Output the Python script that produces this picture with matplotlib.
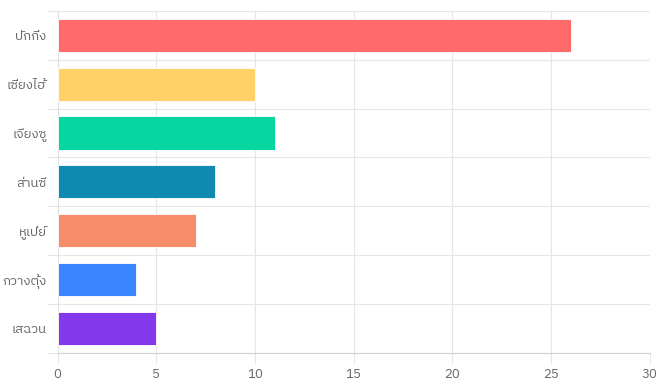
import matplotlib
matplotlib.use("Agg")
import matplotlib.pyplot as plt
from matplotlib import font_manager
from matplotlib.ft2font import FT2Font

provinces = ["ปักกิ่ง", "เซี่ยงไฮ้", "เจียงซู", "ส่านซี", "หูเป่ย์", "กวางตุ้ง", "เสฉวน"]
counts = [26, 10, 11, 8, 7, 4, 5]
colors = ["#FF6B6B", "#FFD166", "#06D6A0", "#118AB2", "#F78C6B", "#3A86FF", "#8338EC"]
x_ticks = [0, 5, 10, 15, 20, 25, 30]


def find_thai_font():
    # pick the first installed font that actually has Thai glyphs
    best = None
    for f in font_manager.fontManager.ttflist:
        try:
            cmap = FT2Font(f.fname).get_charmap()
        except Exception:
            continue
        if 0x0E01 in cmap and 0x0E48 in cmap:
            if "Thai" in f.name and "Looped" not in f.name:
                return f.name
            if best is None:
                best = f.name
    return best


thai = find_thai_font()
families = ([thai] if thai else []) + ["DejaVu Sans"]
plt.rcParams["font.family"] = families

fig = plt.figure(figsize=(6.6, 3.85), dpi=100)
ax = fig.add_axes([57.5 / 660, 32.3 / 385, 592.2 / 660, 341.7 / 385])

y = list(range(len(provinces)))
ax.barh(y, counts, height=0.68, color=colors, edgecolor="white", linewidth=0.6, zorder=3)

ax.set_xlim(0, 30)
ax.set_ylim(len(provinces) - 0.5, -0.5)
ax.set_xticks(x_ticks)
ax.set_xticklabels([str(t) for t in x_ticks])
ax.set_yticks(y)
ax.set_yticklabels(provinces)

# grid between categories like chart.js
ax.set_yticks([i - 0.5 for i in range(len(provinces) + 1)], minor=True)
ax.grid(True, axis="x", color="#e6e6e6", linewidth=0.8, zorder=0)
ax.grid(True, axis="y", which="minor", color="#e6e6e6", linewidth=0.8, zorder=0)

ax.tick_params(axis="y", which="major", length=0, pad=8, labelsize=9.5, labelcolor="#666666")
ax.tick_params(axis="y", which="minor", length=8, color="#e6e6e6", width=0.8)
ax.tick_params(axis="x", length=7, color="#e6e6e6", width=0.8, pad=4, labelsize=9.5, labelcolor="#666666")

for side in ["top", "right"]:
    ax.spines[side].set_visible(False)
ax.spines["left"].set_color("#e0e0e0")
ax.spines["bottom"].set_color("#d0d0d0")
ax.spines["left"].set_linewidth(0.8)
ax.spines["bottom"].set_linewidth(0.8)

fig.savefig("out.png", dpi=100)
